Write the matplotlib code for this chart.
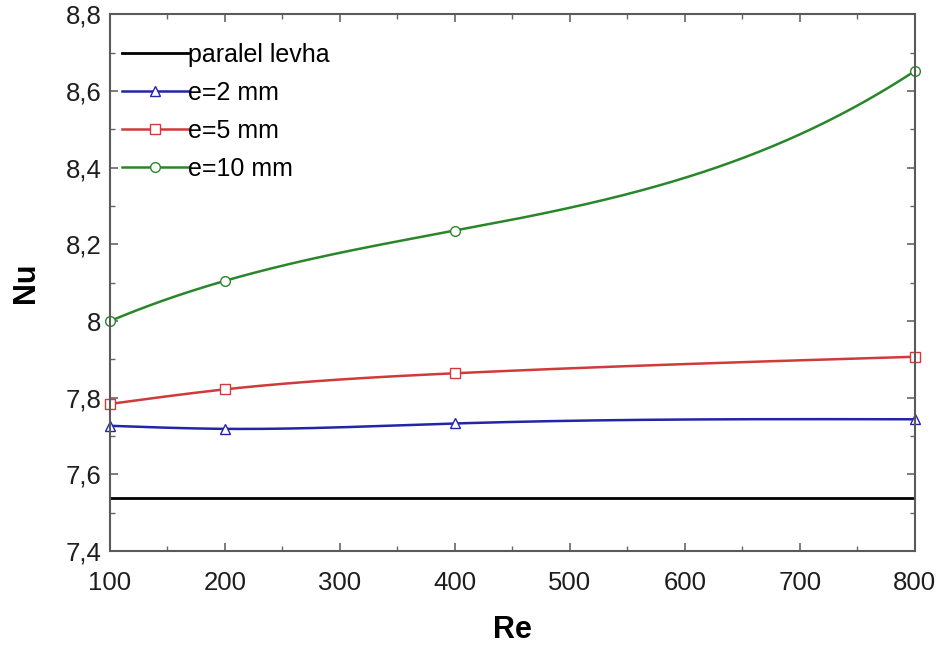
import numpy as np
import matplotlib
matplotlib.use("Agg")
import matplotlib.pyplot as plt
from matplotlib.ticker import MultipleLocator, FuncFormatter

plt.rcParams['font.family'] = ['Liberation Sans', 'DejaVu Sans']

re_vals = [100, 200, 400, 800]
nu_plate = 7.54
nu_e2 = [7.727, 7.719, 7.733, 7.744]
nu_e5 = [7.784, 7.822, 7.864, 7.907]
nu_e10 = [8.000, 8.105, 8.236, 8.652]


def cubic_curve(x, y, n=300):
    """Single cubic through all points (Lagrange form)."""
    x = np.asarray(x, float)
    y = np.asarray(y, float)
    xs = np.linspace(x[0], x[-1], n)
    ys = np.zeros_like(xs)
    for i in range(len(x)):
        li = np.ones_like(xs)
        for j in range(len(x)):
            if j != i:
                li *= (xs - x[j]) / (x[i] - x[j])
        ys += y[i] * li
    return xs, ys


def natural_spline(x, y, n=300):
    x = np.asarray(x, float)
    y = np.asarray(y, float)
    k = len(x)
    h = np.diff(x)
    A = np.zeros((k, k))
    b = np.zeros(k)
    A[0, 0] = A[-1, -1] = 1.0
    for i in range(1, k - 1):
        A[i, i - 1] = h[i - 1]
        A[i, i] = 2 * (h[i - 1] + h[i])
        A[i, i + 1] = h[i]
        b[i] = 6 * ((y[i + 1] - y[i]) / h[i] - (y[i] - y[i - 1]) / h[i - 1])
    M = np.linalg.solve(A, b)
    xs = np.linspace(x[0], x[-1], n)
    idx = np.clip(np.searchsorted(x, xs) - 1, 0, k - 2)
    x0, x1 = x[idx], x[idx + 1]
    hh = x1 - x0
    a = (x1 - xs) / hh
    c = (xs - x0) / hh
    ys = (a * y[idx] + c * y[idx + 1]
          + ((a ** 3 - a) * M[idx] + (c ** 3 - c) * M[idx + 1]) * hh ** 2 / 6)
    return xs, ys


fig = plt.figure(figsize=(9.43, 6.5), dpi=100)
ax = fig.add_axes([0.1166, 0.152, 0.8534, 0.826])

ax.plot([re_vals[0], re_vals[-1]], [nu_plate, nu_plate], color='black', lw=2,
        label='paralel levha')

series = [
    (nu_e2, '#2424a8', '^', 'e=2 mm', natural_spline),
    (nu_e5, '#d03a3a', 's', 'e=5 mm', natural_spline),
    (nu_e10, '#2a862a', 'o', 'e=10 mm', cubic_curve),
]
for vals, col, mk, lab, fit in series:
    xs, ys = fit(re_vals, vals)
    ax.plot(xs, ys, color=col, lw=1.8)
    ax.plot(re_vals, vals, ls='none', marker=mk, ms=7, mfc='white',
            mec=col, mew=1.0, clip_on=False)
    ax.plot([], [], color=col, lw=1.8, marker=mk, ms=7, mfc='white',
            mec=col, mew=1.0, label=lab)

ax.set_xlim(100, 800)
ax.set_ylim(7.4, 8.8)
ax.xaxis.set_major_locator(MultipleLocator(100))
ax.xaxis.set_minor_locator(MultipleLocator(50))
ax.yaxis.set_major_locator(MultipleLocator(0.2))
ax.yaxis.set_minor_locator(MultipleLocator(0.1))
ax.yaxis.set_major_formatter(FuncFormatter(lambda v, p: ('%g' % round(v, 2)).replace('.', ',')))

ax.tick_params(which='both', direction='in', top=True, right=True,
               colors='#666666', labelcolor='#1e1e1e')
ax.tick_params(which='major', length=6, width=1.2, labelsize=18.5)
ax.tick_params(which='minor', length=3.5, width=1.0)
ax.tick_params(axis='x', which='major', pad=14)
ax.tick_params(axis='y', which='major', pad=6)
for s in ax.spines.values():
    s.set_color('#5a5a5a')
    s.set_linewidth(1.5)

ax.set_xlabel('Re', fontsize=22, fontweight='bold', labelpad=15)
ax.set_ylabel('Nu', fontsize=22, fontweight='bold', labelpad=18)

leg = ax.legend(loc='upper left', frameon=False, fontsize=18, handlelength=2.65,
                handletextpad=0.0, labelspacing=0.56, borderaxespad=0.0,
                bbox_to_anchor=(0.002, 0.966))

fig.savefig('out.png', dpi=100)
